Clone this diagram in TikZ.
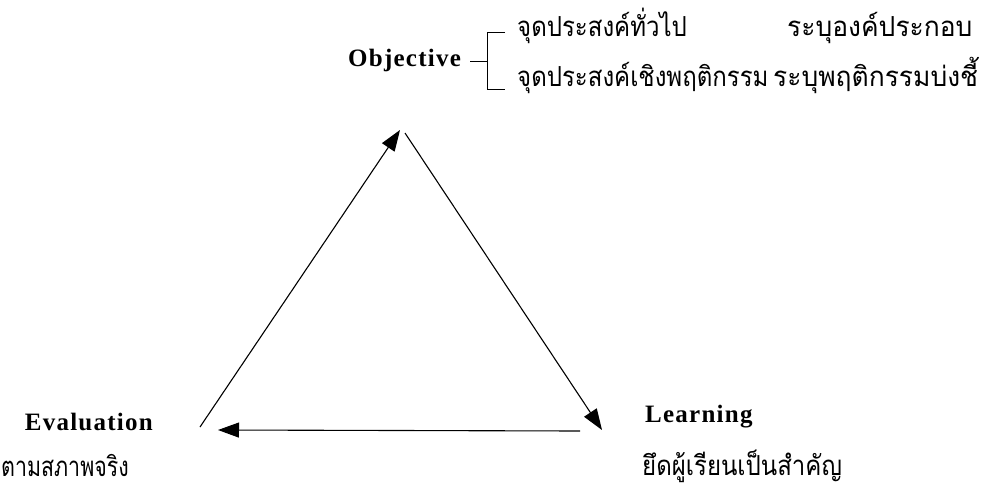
\documentclass[tikz,border=0pt]{standalone}
\usepackage{fontspec}
\setmainfont{Liberation Serif}
\newfontfamily\thaifont[Script=Thai]{Loma}
\newfontfamily\latbold[LetterSpace=5]{Liberation Serif Bold}
\usetikzlibrary{arrows.meta}
\newcommand{\thstr}[2][1]{\scalebox{#1}[1.15]{#2}}
\begin{document}
\begin{tikzpicture}[x=1pt,y=-1pt,
  title/.style={inner sep=0pt,font=\latbold\fontsize{25}{28}\selectfont},
  thai/.style={inner sep=0pt,font=\thaifont\fontsize{24}{28}\selectfont},
  arr/.style={line width=1.1pt,-{Triangle[length=21pt,width=15pt]}},
  brk/.style={line width=1pt}]
\useasboundingbox (0,0) rectangle (983,488);
% labels
\node[title,anchor=base west] (obj) at (348,66) {Objective};
\node[thai,anchor=base west] (g1) at (517,36) {\thstr{จุดประสงค์ทั่วไป}};
\node[thai,anchor=base west] (g2) at (517,86) {\thstr{จุดประสงค์เชิงพฤติกรรม}};
\node[thai,anchor=base west] (h1) at (787,36) {\thstr[1.1]{ระบุองค์ประกอบ}};
\node[thai,anchor=base west] (h2) at (773,86) {\thstr[1.1]{ระบุพฤติกรรมบ่งชี้}};
\node[title,anchor=base west] (learn) at (645,422) {Learning};
\node[thai,anchor=base west] (learnt) at (642,475) {\thstr{ยึดผู้เรียนเป็นสำคัญ}};
\node[title,anchor=base east] (eval) at (153,430) {Evaluation};
\node[thai,anchor=base west] (evalt) at (1,476) {\thstr[0.89]{ตามสภาพจริง}};
% bracket
\coordinate (d0) at (470,61);
\coordinate (d1) at (487,61);
\coordinate (bt) at (487,32);
\coordinate (bb) at (487,89);
\coordinate (tt) at (505,32);
\coordinate (tb) at (505,89);
\draw[brk] (d0) -- (d1);
\draw[brk] (tt) -- (bt) -- (bb) -- (tb);
% triangle
\coordinate (eS) at (200,427);
\coordinate (oE) at (400,130);
\coordinate (oS) at (405,133);
\coordinate (lE) at (602,430);
\coordinate (lS) at (580,431);
\coordinate (eE) at (218,430);
\draw[arr] (eS) -- (oE);
\draw[arr] (oS) -- (lE);
\draw[arr] (lS) -- (eE);
\end{tikzpicture}
\end{document}
